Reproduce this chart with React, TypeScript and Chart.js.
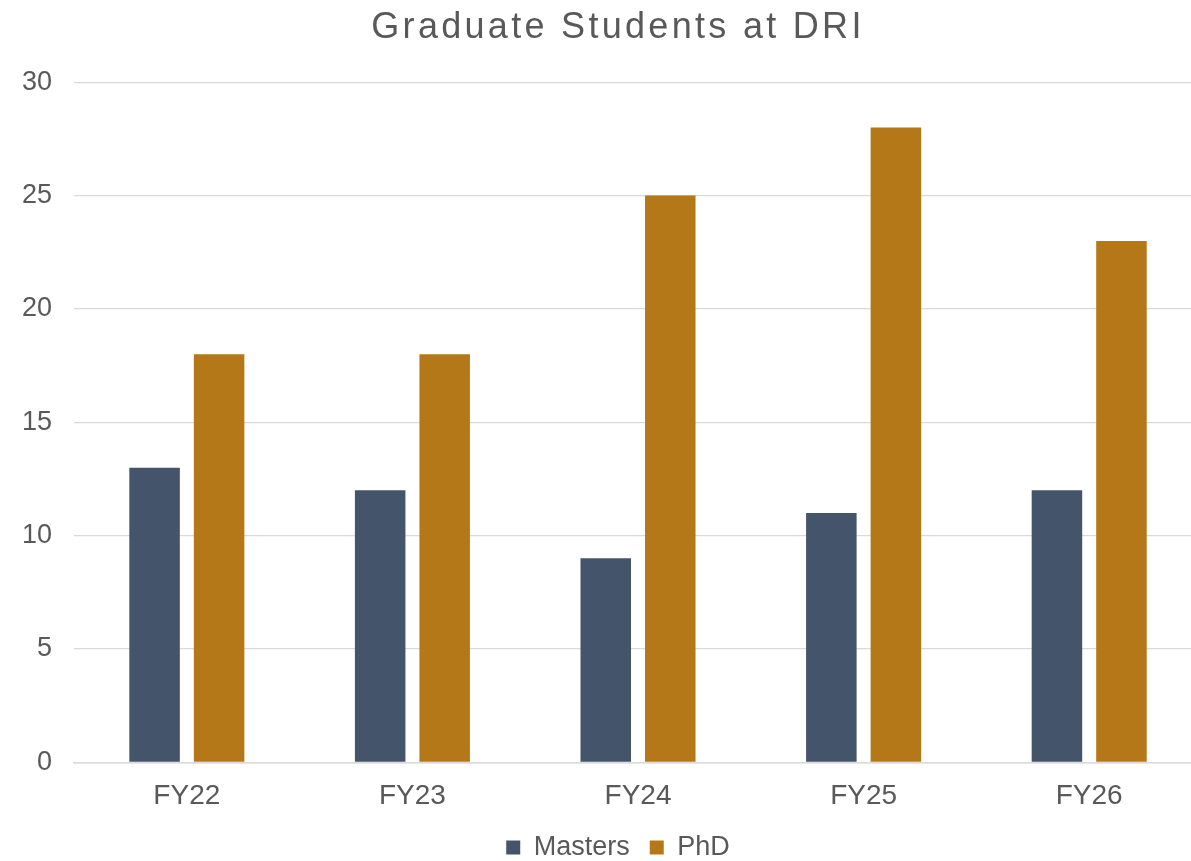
import React, { useEffect, useRef } from "react";
import { Chart, registerables } from "chart.js";

Chart.register(...registerables);

const categories = ["FY22", "FY23", "FY24", "FY25", "FY26"];
const mastersValues = [13, 12, 9, 11, 12];
const phdValues = [18, 18, 25, 28, 23];
const seriesNames = ["Masters", "PhD"];
const chartTitle = "Graduate Students at DRI";

const TEXT = "#595959";
const FONT = "'Liberation Sans', Arial, sans-serif";

const titleSpacing = {
  id: "titleSpacing",
  afterInit(chart: any) {
    const tb = chart.titleBlock;
    if (tb && !tb._wrapped) {
      const orig = tb.draw.bind(tb);
      tb.draw = (...args: any[]) => {
        const ctx = chart.ctx as any;
        ctx.save();
        ctx.letterSpacing = "3.3px";
        orig(...args);
        ctx.restore();
      };
      tb._wrapped = true;
    }
  },
};

export default function App() {
  const ref = useRef<HTMLCanvasElement | null>(null);
  useEffect(() => {
    if (!ref.current) return;
    const chart = new Chart(ref.current, {
      type: "bar",
      data: {
        labels: categories,
        datasets: [
          {
            label: seriesNames[0],
            data: mastersValues,
            backgroundColor: "#44546A",
            categoryPercentage: 0.572,
            barPercentage: 0.783,
          },
          {
            label: seriesNames[1],
            data: phdValues,
            backgroundColor: "#B47818",
            categoryPercentage: 0.572,
            barPercentage: 0.783,
          },
        ],
      },
      plugins: [titleSpacing],
      options: {
        animation: false,
        responsive: false,
        maintainAspectRatio: false,
        layout: { padding: { left: 0, right: 0, top: 0, bottom: -10 } },
        plugins: {
          title: {
            display: true,
            text: chartTitle,
            color: TEXT,
            font: { family: FONT, size: 36, weight: "normal" },
            padding: { top: 6, bottom: 33 },
          },
          legend: {
            position: "bottom",
            labels: {
              color: TEXT,
              font: { family: FONT, size: 27 },
              boxWidth: 14,
              boxHeight: 14,
              padding: 20,
            },
          },
          tooltip: { enabled: false },
        },
        scales: {
          x: {
            grid: { display: false, drawTicks: false },
            border: { display: true, color: "#D9D9D9", width: 1.5 },
            ticks: {
              color: TEXT,
              font: { family: FONT, size: 28 },
              padding: 17,
            },
            afterFit(scale: any) {
              scale.height -= 16;
            },
          },
          y: {
            min: 0,
            max: 30,
            grid: { color: "#D9D9D9", lineWidth: 1.3, drawTicks: false },
            border: { display: false },
            ticks: {
              stepSize: 5,
              color: TEXT,
              font: { family: FONT, size: 27 },
              padding: 22,
            },
          },
          spacer: {
            type: "linear",
            position: "right",
            display: true,
            grid: { display: false, drawTicks: false },
            border: { display: false },
            ticks: { display: false },
            afterFit(scale: any) {
              scale.width = 34;
            },
          },
        },
      },
    });
    return () => chart.destroy();
  }, []);
  return (
    <div
      style={{
        position: "fixed",
        left: 0,
        top: 0,
        width: 1191,
        height: 861,
        overflow: "hidden",
        background: "#fff",
      }}
    >
      <canvas ref={ref} width={1236} height={861} style={{ width: 1236, height: 861, display: "block" }} />
    </div>
  );
}
